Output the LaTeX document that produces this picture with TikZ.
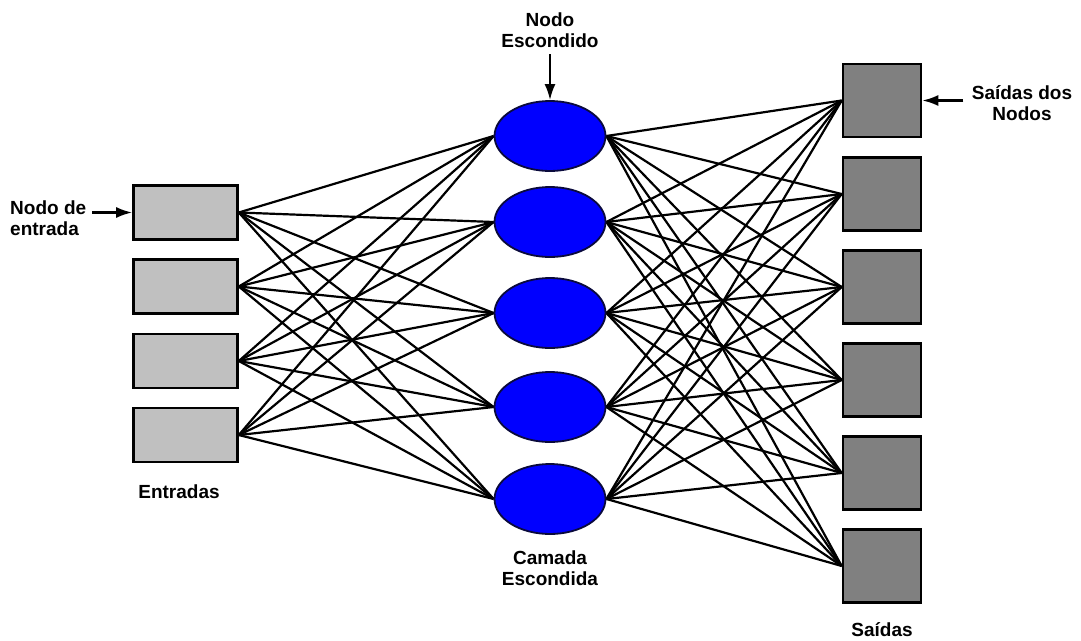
\documentclass[tikz,border=0pt]{standalone}
\usepackage{fontspec}
\setmainfont{Liberation Sans}
\usepackage{tikz}
\usetikzlibrary{positioning, shapes.geometric, backgrounds, arrows.meta}

\definecolor{cinza}{RGB}{192,192,192}
\definecolor{cinzaesc}{RGB}{128,128,128}
\definecolor{azul}{RGB}{0,0,255}
\definecolor{marinho}{RGB}{10,10,60}

\tikzset{
    entrada/.style={draw=black, line width=2.6pt, fill=cinza, minimum width=104pt, minimum height=54pt, inner sep=0pt},
    saida/.style={draw=black, line width=2.6pt, fill=cinzaesc, minimum width=78pt, minimum height=73pt, inner sep=0pt},
    oculto/.style={ellipse, draw=marinho, line width=1.8pt, fill=azul, minimum width=111pt, minimum height=70pt, inner sep=0pt},
    rotulo/.style={font=\fontsize{19}{21}\selectfont\bfseries, align=center, inner sep=0pt},
    ligacao/.style={line width=2.2pt},
    seta/.style={->, line width=2.2pt}
}

\begin{document}
\begin{tikzpicture}[>={Latex[length=16pt, width=11pt]}, x=1pt, y=-1pt]
    \useasboundingbox (0,0) rectangle (1081,640);

    % Camada de entrada
    \foreach \i/\y in {1/212.5, 2/286.5, 3/361, 4/435} {
        \node[entrada] (in\i) at (185.5,\y) {};
    }

    % Camada escondida
    \foreach \i/\y in {1/136, 2/222, 3/313, 4/407, 5/499} {
        \node[oculto] (hid\i) at (550,\y) {};
    }

    % Camada de saída
    \foreach \i/\y in {1/100.5, 2/194, 3/287, 4/380, 5/473, 6/566} {
        \node[saida] (out\i) at (882,\y) {};
    }

    % Ligações entre as camadas (por baixo dos nós)
    \begin{scope}[on background layer]
    \foreach \i in {1,...,4} {
        \foreach \j in {1,...,5} {
            \draw[ligacao] (in\i.east) -- (hid\j.west);
        }
    }
    \foreach \j in {1,...,5} {
        \foreach \k in {1,...,6} {
            \draw[ligacao] (hid\j.east) -- (out\k.west);
        }
    }
    \end{scope}

    % Rótulos
    \node[rotulo, align=left, anchor=west] (lblin) at (10,218) {Nodo de\\entrada};
    \draw[seta] ([xshift=-40pt]in1.west) -- (in1.west);

    \node[rotulo] (lblhid) at (550,30) {Nodo\\Escondido};
    \draw[seta] ([yshift=46pt]hid1.north) -- (hid1.north);

    \node[rotulo] (lblout) at (1022,103) {Saídas dos\\Nodos};
    \draw[seta] ([xshift=41pt]out1.east) -- (out1.east);

    \node[rotulo] (lblcam) at (550,568) {Camada\\Escondida};
    \node[rotulo] (lblent) at (179,492) {Entradas};
    \node[rotulo] (lblsai) at (882,630) {Saídas};
\end{tikzpicture}
\end{document}
